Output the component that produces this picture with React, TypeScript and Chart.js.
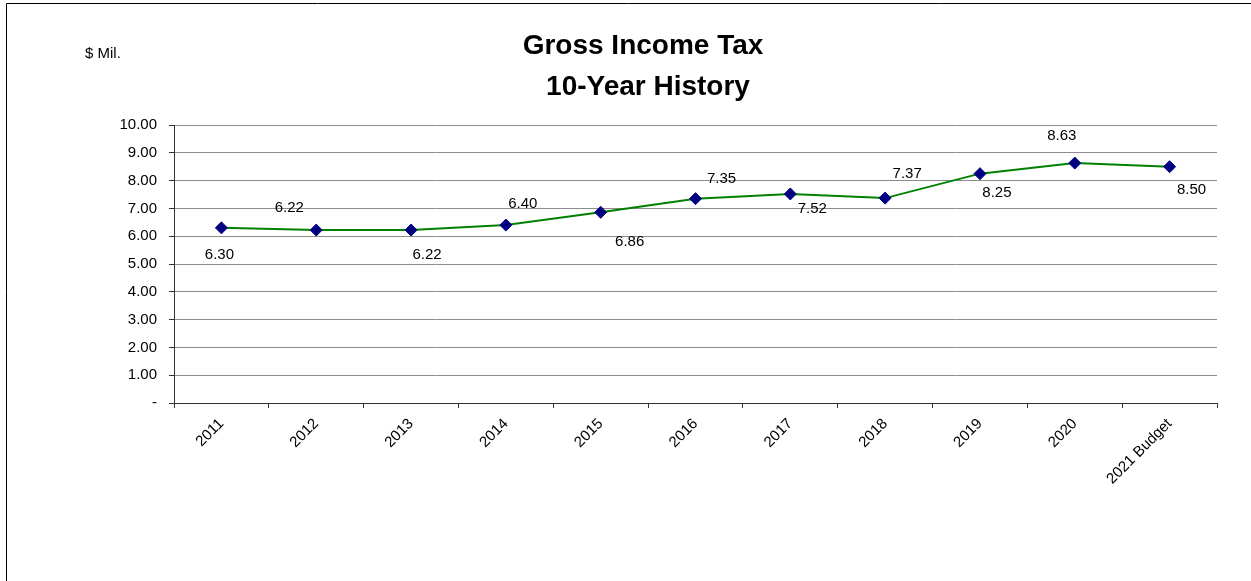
import React, { useEffect, useRef } from "react";
import { Chart, registerables } from "chart.js";

Chart.register(...registerables);

const CATEGORIES: string[] = ["2011", "2012", "2013", "2014", "2015", "2016", "2017", "2018", "2019", "2020", "2021 Budget"];
const VALUES: number[] = [6.3, 6.22, 6.22, 6.4, 6.86, 7.35, 7.52, 7.37, 8.25, 8.63, 8.5];
const TITLE_LINES: string[] = ["Gross Income Tax", "10-Year History"];
const UNIT_LABEL = "$ Mil.";
const Y_MIN = 0;
const Y_MAX = 10;
const Y_STEP = 1;

// label placement relative to each point (style only)
const LABEL_OFFSETS: [number, number][] = [
  [-2, 27], [-27, -22], [16, 25], [17, -21], [29, 30], [26, -20],
  [22, 15], [22, -24], [17, 19], [-13, -27], [22, 23],
];

const FONT = "Arial, 'Liberation Sans', sans-serif";

const decorPlugin = {
  id: "decor",
  beforeDraw(chart: any) {
    const ctx = chart.ctx;
    ctx.save();
    ctx.fillStyle = "#ffffff";
    ctx.fillRect(0, 0, chart.width, chart.height);
    ctx.strokeStyle = "#000000";
    ctx.lineWidth = 1;
    ctx.beginPath();
    ctx.moveTo(6.5, chart.height);
    ctx.lineTo(6.5, 3.5);
    ctx.lineTo(chart.width, 3.5);
    ctx.stroke();
    ctx.restore();
  },
  afterDraw(chart: any) {
    const ctx = chart.ctx;
    ctx.save();
    ctx.fillStyle = "#000000";
    ctx.textAlign = "center";
    ctx.textBaseline = "middle";
    ctx.font = `bold 28px ${FONT}`;
    ctx.fillText(TITLE_LINES[0], 643, 46);
    ctx.fillText(TITLE_LINES[1], 648, 87);
    ctx.font = `15px ${FONT}`;
    ctx.textAlign = "left";
    ctx.fillText(UNIT_LABEL, 85, 54);

    const meta = chart.getDatasetMeta(0);
    ctx.textAlign = "center";
    ctx.font = `15px ${FONT}`;
    meta.data.forEach((pt: any, i: number) => {
      const off = LABEL_OFFSETS[i] || [0, -20];
      ctx.fillText(VALUES[i].toFixed(2), pt.x + off[0], pt.y + off[1]);
    });
    ctx.restore();
  },
};

export default function App() {
  const ref = useRef<HTMLCanvasElement | null>(null);

  useEffect(() => {
    if (!ref.current) return;
    const chart = new Chart(ref.current, {
      type: "line",
      data: {
        labels: CATEGORIES,
        datasets: [
          {
            data: VALUES,
            borderColor: "#008000",
            borderWidth: 2,
            pointStyle: "rectRot",
            pointRadius: 6,
            pointBackgroundColor: "#000080",
            pointBorderColor: "#000080",
            pointBorderWidth: 1,
            tension: 0,
            fill: false,
          },
        ],
      },
      options: {
        responsive: false,
        animation: false,
        devicePixelRatio: 1,
        layout: { padding: { top: 125, right: 34, bottom: 0, left: 0 } },
        plugins: {
          legend: { display: false },
          title: { display: false },
          tooltip: { enabled: false },
        },
        scales: {
          x: {
            type: "category",
            offset: true,
            grid: {
              offset: true,
              drawOnChartArea: false,
              drawTicks: true,
              tickLength: 5,
              tickColor: "#333333",
            },
            border: { color: "#333333", width: 1 },
            ticks: {
              autoSkip: false,
              maxRotation: 45,
              minRotation: 45,
              padding: 7,
              color: "#000000",
              font: { family: FONT, size: 15 },
            },
            afterFit(scale: any) {
              scale.height = 178;
            },
          },
          y: {
            min: Y_MIN,
            max: Y_MAX,
            grid: {
              color: "#8c8c8c",
              lineWidth: 1,
              tickLength: 5,
              tickColor: "#333333",
            },
            border: { color: "#333333", width: 1 },
            ticks: {
              stepSize: Y_STEP,
              padding: 12,
              color: "#000000",
              font: { family: FONT, size: 15 },
              callback: (v: any) => (Number(v) === 0 ? "-" : Number(v).toFixed(2)),
            },
            afterFit(scale: any) {
              scale.width = 174;
            },
          },
        },
      },
      plugins: [decorPlugin],
    });
    return () => chart.destroy();
  }, []);

  return (
    <div style={{ position: "absolute", left: 0, top: 0, width: 1251, height: 581 }}>
      <canvas ref={ref} width={1251} height={581} style={{ display: "block" }} />
    </div>
  );
}
